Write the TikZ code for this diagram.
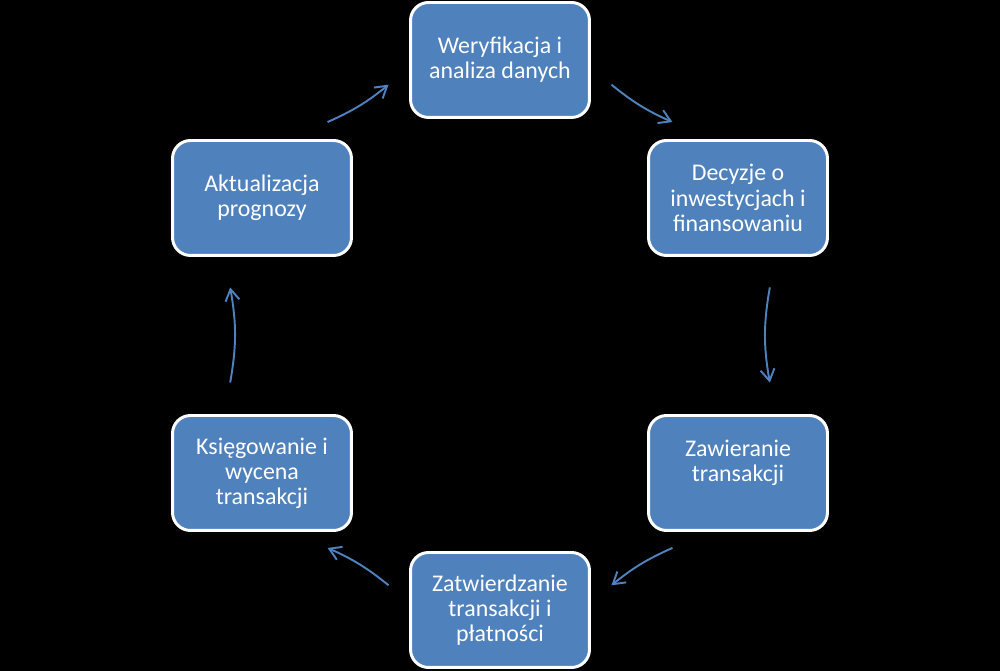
\documentclass[tikz,border=0pt]{standalone}
\usepackage{fontspec}
\setmainfont{Carlito}
\usepackage{tikz}
\usetikzlibrary{calc}
\usetikzlibrary{arrows.meta}
\definecolor{StepBlue}{RGB}{79,129,189}
\tikzset{
  stepbox/.style={rectangle,draw=white,fill=StepBlue,line width=1.7pt,rounded corners=0.36cm,
    minimum width=3.58cm,minimum height=2.3cm,align=center,text=white,
    font=\fontsize{13.6}{14.3}\selectfont},
  cyc/.style={draw=StepBlue,line width=1.1pt,-{Straight Barb[length=6.5pt,width=8pt]}},
}

\begin{document}
\begin{tikzpicture}[x=0.02cm,y=0.02cm]
    \fill[black] (0,0) rectangle (1000,671);
    \useasboundingbox (0,0) rectangle (1000,671);
    \coordinate (hub) at (500,336);
    \node[stepbox] (wer) at (500,611) {Weryfikacja i\\analiza danych};
    \node[stepbox] (dec) at (738,473) {Decyzje o\\inwestycjach i\\finansowaniu};
    \node[stepbox] (zaw) at (738,198) {Zawieranie\\transakcji\\\mbox{}};
    \node[stepbox] (zat) at (500,61) {Zatwierdzanie\\transakcji i\\płatności};
    \node[stepbox] (ksi) at (262,198) {Księgowanie i\\wycena\\transakcji};
    \node[stepbox] (akt) at (262,473) {Aktualizacja\\prognozy};
    \foreach \n/\a/\b/\t in {1/66/51/7.5,2/10/-10/10,3/-51/-66/7.5,4/-114/-129/7.5,5/190/170/10,6/129/114/7.5} {
      \coordinate (s\n) at ($(hub)+(\a:274)$);
      \coordinate (e\n) at ($(hub)+(\b:274)$);
      \draw[cyc] (s\n) to[bend right=\t] (e\n);
    }
  \end{tikzpicture}
\end{document}
